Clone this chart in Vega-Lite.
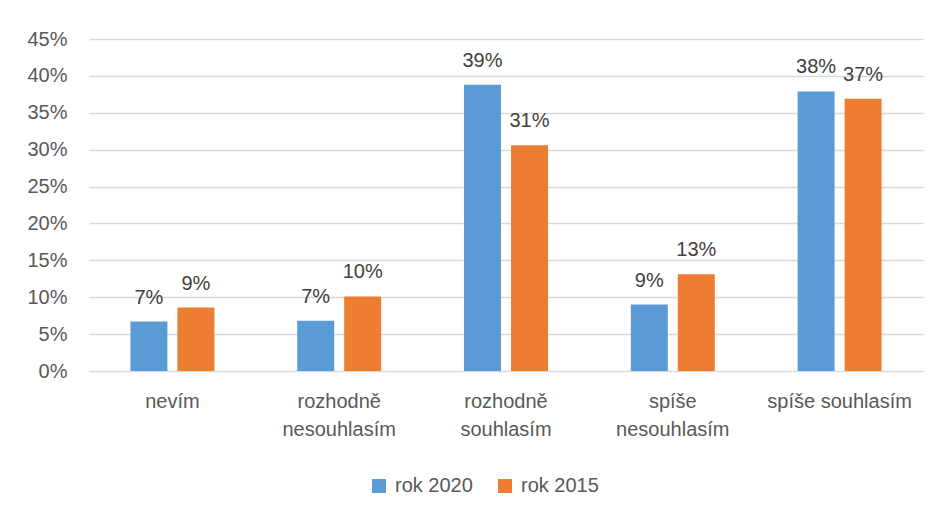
{
  "$schema": "https://vega.github.io/schema/vega-lite/v6.json",
  "width": 834,
  "height": 332,
  "autosize": {"type": "none"},
  "padding": {"left": 89, "top": 39, "right": 15, "bottom": 144},
  "background": "white",
  "config": {
    "view": {"stroke": null},
    "font": "Liberation Sans"
  },
  "data": {
    "values": [
      {"kategorie": "nevím", "rok": "rok 2020", "podil": 0.067},
      {"kategorie": "nevím", "rok": "rok 2015", "podil": 0.086},
      {"kategorie": "rozhodně nesouhlasím", "rok": "rok 2020", "podil": 0.068},
      {"kategorie": "rozhodně nesouhlasím", "rok": "rok 2015", "podil": 0.101},
      {"kategorie": "rozhodně souhlasím", "rok": "rok 2020", "podil": 0.388},
      {"kategorie": "rozhodně souhlasím", "rok": "rok 2015", "podil": 0.306},
      {"kategorie": "spíše nesouhlasím", "rok": "rok 2020", "podil": 0.090},
      {"kategorie": "spíše nesouhlasím", "rok": "rok 2015", "podil": 0.131},
      {"kategorie": "spíše souhlasím", "rok": "rok 2020", "podil": 0.379},
      {"kategorie": "spíše souhlasím", "rok": "rok 2015", "podil": 0.369}
    ]
  },
  "encoding": {
    "x": {
      "field": "kategorie",
      "type": "nominal",
      "sort": null,
      "scale": {"paddingInner": 0, "paddingOuter": 0},
      "axis": {
        "title": null,
        "labelAngle": 0,
        "ticks": false,
        "domain": false,
        "labelFontSize": 20,
        "labelColor": "#595959",
        "labelPadding": 20,
        "labelLineHeight": 28,
        "labelBaseline": "top",
        "labelExpr": "length(datum.label) > 15 ? split(datum.label, ' ') : datum.label"
      }
    },
    "xOffset": {
      "field": "rok",
      "type": "nominal",
      "sort": ["rok 2020", "rok 2015"],
      "scale": {"paddingInner": 0.213, "paddingOuter": 0.881}
    },
    "y": {
      "field": "podil",
      "type": "quantitative",
      "scale": {"domain": [0, 0.45], "nice": false},
      "axis": {
        "title": null,
        "format": ".0%",
        "values": [0, 0.05, 0.1, 0.15, 0.2, 0.25, 0.3, 0.35, 0.4, 0.45],
        "ticks": false,
        "domain": false,
        "labelFontSize": 20,
        "labelColor": "#595959",
        "labelPadding": 22,
        "gridColor": "#d9d9d9",
        "gridWidth": 1.5
      }
    }
  },
  "layer": [
    {
      "mark": {"type": "bar"},
      "encoding": {
        "color": {
          "field": "rok",
          "type": "nominal",
          "sort": ["rok 2020", "rok 2015"],
          "scale": {"domain": ["rok 2020", "rok 2015"], "range": ["#5B9BD5", "#ED7D31"]},
          "legend": {
            "title": null,
            "orient": "none",
            "direction": "horizontal",
            "legendX": 280,
            "legendY": 437,
            "symbolType": "square",
            "symbolSize": 196,
            "symbolStrokeWidth": 0,
            "labelFontSize": 20,
            "labelColor": "#595959",
            "labelOffset": 6,
            "columnPadding": 22
          }
        }
      }
    },
    {
      "mark": {"type": "text", "baseline": "alphabetic", "dy": -18, "fontSize": 20, "color": "#404040"},
      "encoding": {
        "text": {"field": "podil", "type": "quantitative", "format": ".0%"}
      }
    }
  ]
}
